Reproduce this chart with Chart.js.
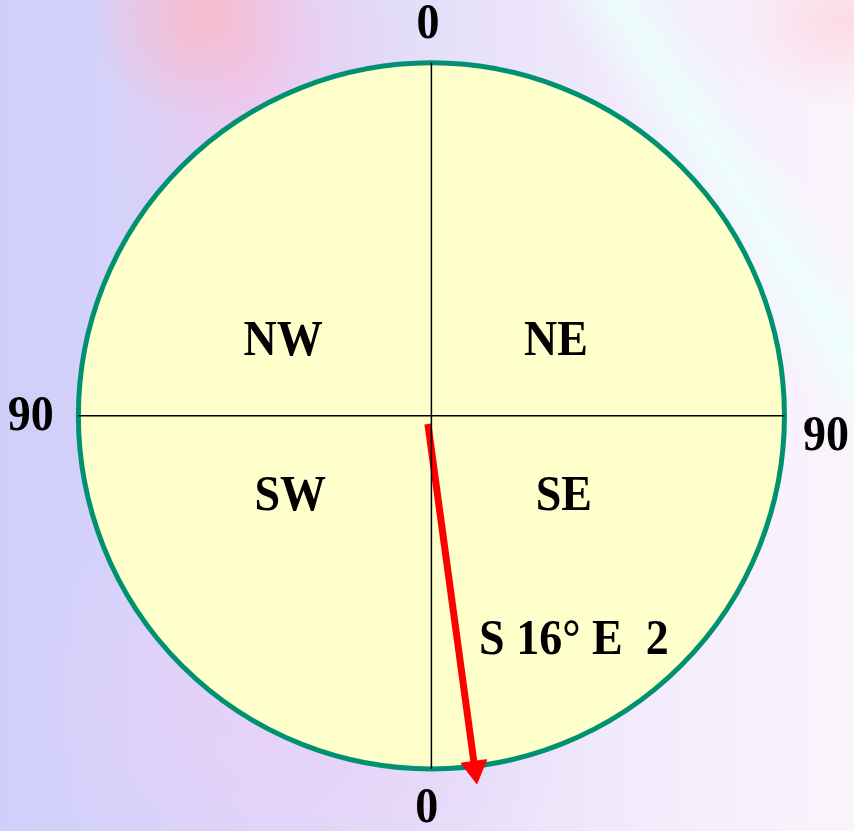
<!DOCTYPE html>
<html lang="en">
<head>
  <meta charset="UTF-8" />
  <title>Compass bearing S 16° E</title>
  <script src="https://cdn.jsdelivr.net/npm/chart.js"></script>
  <style>
    html, body { margin: 0; padding: 0; }
    body {
      width: 854px; height: 831px; overflow: hidden;
      background:
        linear-gradient(57deg, transparent 78%, rgba(236,255,252,0.85) 83%, transparent 88%),
        radial-gradient(ellipse 110px 110px at 200px 15px, rgba(250,185,198,0.85), rgba(250,185,198,0) 100%),
        radial-gradient(ellipse 150px 280px at 250px 60px, rgba(248,192,232,0.65), rgba(248,192,232,0) 100%),
        radial-gradient(ellipse 110px 90px at 840px 20px, rgba(252,210,222,0.75), rgba(252,210,222,0) 100%),
        radial-gradient(ellipse 280px 220px at 300px 700px, rgba(238,206,248,0.75), rgba(238,206,248,0) 100%),
        linear-gradient(to right, #d0cffa 0%, #d8d4fa 25%, #e4def9 50%, #f3ebfc 75%, #fbf4fc 100%);
    }
    #wrap { position: relative; width: 854px; height: 831px; }
  </style>
</head>
<body>
  <div id="wrap"><canvas id="compass"></canvas></div>

  <script>
    // quadrant names, placed in unit-circle coordinates
    const quadrantLabels = ['NW', 'NE', 'SW', 'SE'];
    const quadrantX = [-0.42, 0.353, -0.40, 0.375];
    const quadrantY = [0.21, 0.21, -0.229, -0.229];

    // angle ticks around the rim
    const tickLabels = ['0', '90', '0', '90'];
    const tickX = [-0.01, 1.118, -0.013, -1.135];
    const tickY = [1.108, -0.059, -1.113, -0.003];

    // the bearing vector
    const bearingText = 'S 16\u00B0 E  2';
    const bearingTextX = 0.135, bearingTextY = -0.637;
    const arrowX = [-0.01, 0.123];
    const arrowY = [-0.023, -1.0];

    // cross hairs of the compass
    const vertX = [0, 0], vertY = [1, -1];
    const horzX = [-1, 1], horzY = [0, 0];
    const rimRadius = 1;

    const pts = (xs, ys) => xs.map((x, i) => ({ x, y: ys[i] }));
    // x and y share the same pixels per unit, so the head can follow the shaft
    const arrowRotation = Math.atan2(arrowX[1] - arrowX[0], arrowY[1] - arrowY[0]) * 180 / Math.PI;

    const rimPlugin = {
      id: 'rim',
      beforeDatasetsDraw(chart) {
        const { ctx, scales: { x, y } } = chart;
        const cx = x.getPixelForValue(0), cy = y.getPixelForValue(0);
        const r = x.getPixelForValue(rimRadius) - cx;
        ctx.save();
        ctx.beginPath();
        ctx.arc(cx, cy, r, 0, Math.PI * 2);
        ctx.fillStyle = '#ffffcc';
        ctx.fill();
        ctx.lineWidth = 5;
        ctx.strokeStyle = '#009270';
        ctx.stroke();
        ctx.restore();
      }
    };

    function label(ctx, text, px, py) {
      ctx.save();
      ctx.translate(px, py);
      ctx.scale(1, 1.1);
      ctx.fillText(text, 0, 0);
      ctx.restore();
    }

    const textPlugin = {
      id: 'texts',
      afterDatasetsDraw(chart) {
        const { ctx, scales: { x, y } } = chart;
        ctx.save();
        ctx.fillStyle = '#000';
        ctx.font = 'bold 46px "Liberation Serif", "Times New Roman", serif';
        ctx.textAlign = 'center';
        ctx.textBaseline = 'middle';
        quadrantLabels.forEach((t, i) => label(ctx, t, x.getPixelForValue(quadrantX[i]), y.getPixelForValue(quadrantY[i])));
        tickLabels.forEach((t, i) => label(ctx, t, x.getPixelForValue(tickX[i]), y.getPixelForValue(tickY[i])));
        ctx.textAlign = 'left';
        label(ctx, bearingText, x.getPixelForValue(bearingTextX), y.getPixelForValue(bearingTextY));
        ctx.restore();
      }
    };

    new Chart(document.getElementById('compass').getContext('2d'), {
      type: 'scatter',
      data: {
        datasets: [
          { data: pts(vertX, vertY), showLine: true, borderColor: '#000', borderWidth: 1.5, pointRadius: 0 },
          { data: pts(horzX, horzY), showLine: true, borderColor: '#000', borderWidth: 1.5, pointRadius: 0 },
          {
            data: pts(arrowX, arrowY),
            showLine: true,
            borderColor: '#ff0000',
            borderWidth: 7,
            pointStyle: 'triangle',
            pointRadius: [0, 15],
            pointRotation: [0, arrowRotation],
            pointBackgroundColor: '#ff0000',
            pointBorderColor: '#ff0000',
            pointBorderWidth: 1
          }
        ]
      },
      options: {
        responsive: true,
        maintainAspectRatio: false,
        animation: false,
        events: [],
        layout: { padding: 0, autoPadding: false },
        plugins: { legend: { display: false }, tooltip: { enabled: false } },
        scales: {
          x: { type: 'linear', display: false, min: -1.222, max: 1.197 },
          y: { type: 'linear', display: false, min: -1.176, max: 1.178 }
        }
      },
      plugins: [rimPlugin, textPlugin]
    });
  </script>
</body>
</html>
